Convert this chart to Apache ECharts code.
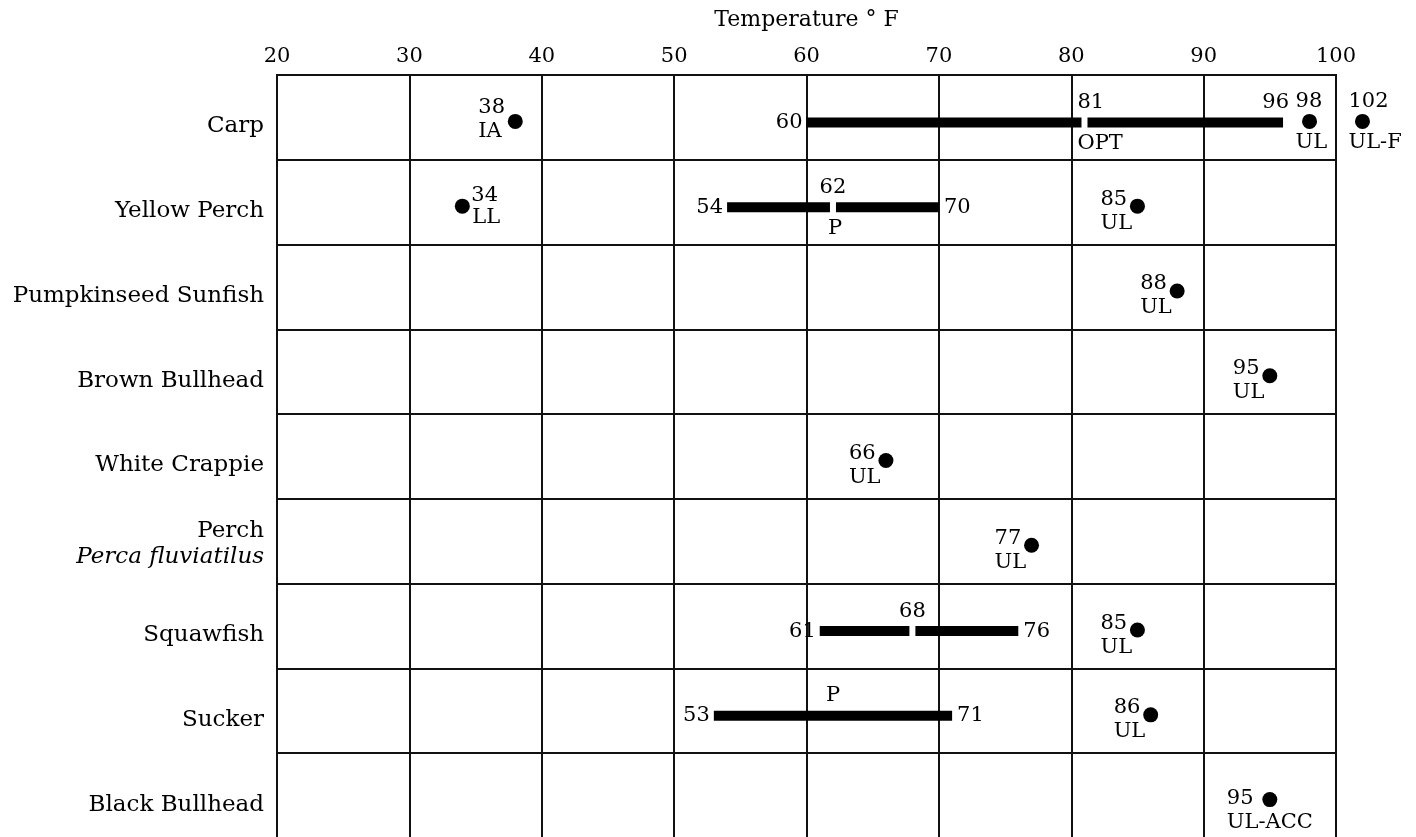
<!DOCTYPE html>
<html><head><meta charset="utf-8">
<script src="https://cdn.jsdelivr.net/npm/echarts@6/dist/echarts.min.js"></script>
<style>html,body{margin:0;padding:0;background:#fff}#c{width:1416px;height:837px}</style>
</head><body><div id="c"></div>
<script>
// ---- data ----
const categories = ['Carp','Yellow Perch','Pumpkinseed Sunfish','Brown Bullhead','White Crappie','Perch|Perca fluviatilus','Squawfish','Sucker','Black Bullhead'];
const xTickMin = 20, xTickMax = 100, xTickStep = 10;
const axisTitle = 'Temperature ° F';

// ranges (bars)
const rangeFish = ['Carp','Yellow Perch','Squawfish','Sucker'];
const rangeStart = [60,54,61,53];
const rangeEnd = [96,70,76,71];
const rangeMark = [81,62,68,62];
const rangeMarkTop = ['81','62','68','P'];
const rangeMarkBottom = ['OPT','P','',''];
const rangeMarkGap = [true,true,true,false];

// single points
const pointFish = ['Carp','Carp','Carp','Yellow Perch','Yellow Perch','Pumpkinseed Sunfish','Brown Bullhead','White Crappie','Perch|Perca fluviatilus','Squawfish','Sucker','Black Bullhead'];
const pointTemp = [38,98,102,34,85,88,95,66,77,85,86,95];
const pointCode = ['IA','UL','UL-F','LL','UL','UL','UL','UL','UL','UL','UL','UL-ACC'];

// ---- layout (style only) ----
const pointPlacement = ['L','TB','TB','R','L','L','L','L','L','L','L','L'];
const pointLabelDy = [-7,0,0,0,0,0,0,0,0,0,0,6];
const pointLabelDx = [0,0,0,0,0,0,0,0,0,0,0,-6];
const rangeEndAbove = [true,false,false,false];
const rangeMarkLeftAligned = [true,false,false,false];

const FONT = '"DejaVu Serif", serif';
const FS = 21;
const CFS = 23;
const INK = '#000';

function txt(text, x, y, align, italic) {
  return { type: 'text', silent: true, style: { text: text, x: x, y: y, fill: INK, fontSize: FS, fontFamily: FONT, fontStyle: italic ? 'italic' : 'normal', align: align, verticalAlign: 'middle' } };
}

const rangeData = rangeFish.map((f, i) => [rangeStart[i], categories.indexOf(f), rangeEnd[i], rangeMark[i], i]);
const pointData = pointFish.map((f, i) => [pointTemp[i], categories.indexOf(f), i]);

function renderRange(params, api) {
  const i = api.value(4);
  const c = api.value(1);
  const p0 = api.coord([api.value(0), c]);
  const xs = p0[0], y = p0[1] + 5;
  const xe = api.coord([api.value(2), c])[0];
  const xm = api.coord([api.value(3), c])[0];
  const h = 10, gap = 6;
  const ch = [];
  const rect = (a, b) => ({ type: 'rect', shape: { x: a, y: y - h / 2, width: b - a, height: h }, style: { fill: INK } });
  if (rangeMarkGap[i]) { ch.push(rect(xs, xm - gap / 2)); ch.push(rect(xm + gap / 2, xe)); }
  else ch.push(rect(xs, xe));
  ch.push(txt(String(rangeStart[i]), xs - 4, y, 'right'));
  if (rangeEndAbove[i]) ch.push(txt(String(rangeEnd[i]), xe + 6, y - 20, 'right'));
  else ch.push(txt(String(rangeEnd[i]), xe + 5, y, 'left'));
  if (rangeMarkLeftAligned[i]) {
    ch.push(txt(rangeMarkTop[i], xm - 7, y - 20, 'left'));
    if (rangeMarkBottom[i]) ch.push(txt(rangeMarkBottom[i], xm - 7, y + 21, 'left'));
  } else {
    ch.push(txt(rangeMarkTop[i], xm, y - 20, 'center'));
    if (rangeMarkBottom[i]) ch.push(txt(rangeMarkBottom[i], xm + 2, y + 21, 'center'));
  }
  return { type: 'group', children: ch };
}

function renderPoint(params, api) {
  const i = api.value(2);
  const p = api.coord([api.value(0), api.value(1)]);
  const x = p[0], y = p[1] + 4;
  const ch = [{ type: 'circle', shape: { cx: x, cy: y, r: 7.5 }, style: { fill: INK } }];
  const pl = pointPlacement[i];
  const num = String(pointTemp[i]), code = pointCode[i];
  const dy = pointLabelDy[i], dx = pointLabelDx[i];
  if (pl === 'L') {
    ch.push(txt(num, x - 37 + dx, y - 7 + dy, 'left'));
    ch.push(txt(code, x - 37 + dx, y + 17 + dy, 'left'));
  } else if (pl === 'R') {
    ch.push(txt(num, x + 9, y - 11, 'left'));
    ch.push(txt(code, x + 10, y + 11, 'left'));
  } else {
    ch.push(txt(num, x - 14, y - 20, 'left'));
    ch.push(txt(code, x - 14, y + 21, 'left'));
  }
  return { type: 'group', children: ch };
}

const chart = echarts.init(document.getElementById('c'));
chart.setOption({
  animation: false,
  backgroundColor: '#fff',
  grid: { left: 277, top: 75, width: 1059, height: 763, containLabel: false, outerBoundsMode: 'none', show: true, borderColor: '#111', borderWidth: 2, backgroundColor: 'transparent' },
  xAxis: {
    type: 'value', position: 'top', min: xTickMin, max: xTickMax, interval: xTickStep,
    name: axisTitle, nameLocation: 'middle', nameGap: 44,
    nameTextStyle: { color: INK, fontSize: 22, fontFamily: FONT },
    axisLine: { show: true, lineStyle: { color: '#111', width: 2 } },
    axisTick: { show: false },
    axisLabel: { color: INK, fontSize: FS, fontFamily: FONT, margin: 8 },
    splitLine: { show: true, lineStyle: { color: '#111', width: 2 } }
  },
  yAxis: {
    type: 'category', data: categories, inverse: true,
    axisLine: { show: true, lineStyle: { color: '#111', width: 2 } },
    axisTick: { show: false },
    splitLine: { show: true, lineStyle: { color: '#111', width: 2 } },
    axisLabel: {
      color: INK, fontSize: CFS, fontFamily: FONT, margin: 13, padding: [18, 0, 0, 0],
      formatter: function (v) {
        if (v.indexOf('|') >= 0) { const s = v.split('|'); return '{a|' + s[0] + '}\n{i|' + s[1] + '}\n{s|}'; }
        return v;
      },
      rich: {
        a: { fontSize: CFS, fontFamily: FONT, color: INK, lineHeight: 26, align: 'right' },
        i: { fontSize: CFS, fontFamily: FONT, color: INK, fontStyle: 'italic', lineHeight: 26, align: 'right' },
        s: { fontSize: 4, lineHeight: 12 }
      }
    }
  },
  series: [
    { type: 'custom', clip: false, renderItem: renderRange, data: rangeData, encode: { x: [0, 2, 3], y: 1 } },
    { type: 'custom', clip: false, renderItem: renderPoint, data: pointData, encode: { x: 0, y: 1 } }
  ]
});
</script>
</body></html>
